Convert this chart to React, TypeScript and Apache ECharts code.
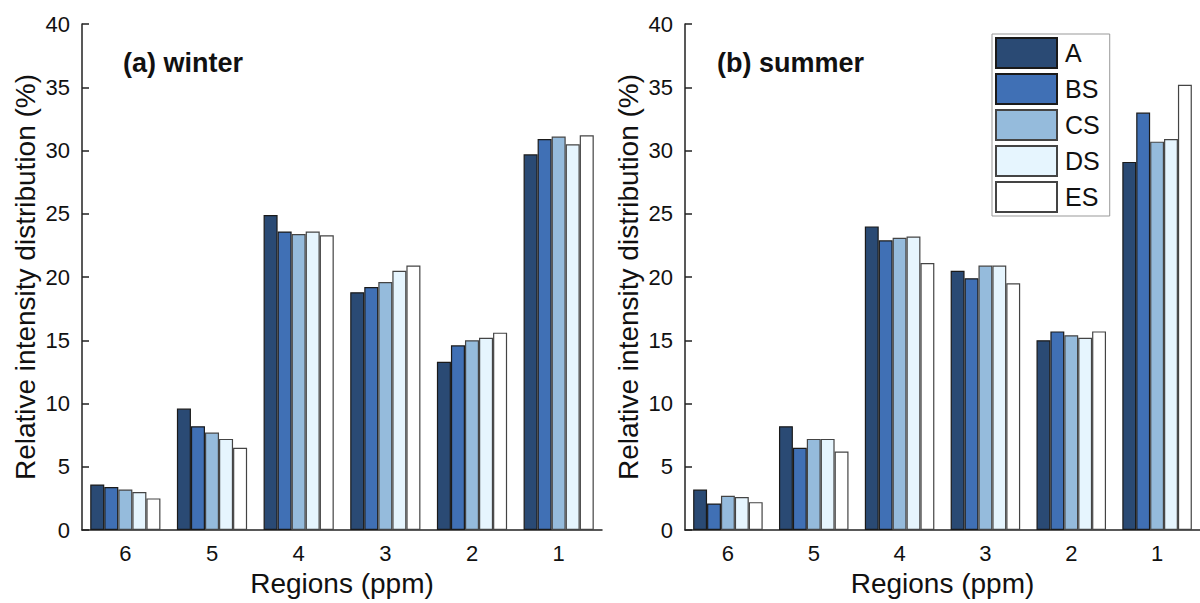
import React, { useEffect, useRef } from "react";
import * as echarts from "echarts";

const categories = ["6", "5", "4", "3", "2", "1"];
const seriesNames = ["A", "BS", "CS", "DS", "ES"];
const seriesColors = ["#2a4a74", "#4070b5", "#95bbdc", "#e6f5fe", "#ffffff"];

const winterA = [3.6, 9.6, 24.9, 18.8, 13.3, 29.7];
const winterBS = [3.4, 8.2, 23.6, 19.2, 14.6, 30.9];
const winterCS = [3.2, 7.7, 23.4, 19.6, 15.0, 31.1];
const winterDS = [3.0, 7.2, 23.6, 20.5, 15.2, 30.5];
const winterES = [2.5, 6.5, 23.3, 20.9, 15.6, 31.2];

const summerA = [3.2, 8.2, 24.0, 20.5, 15.0, 29.1];
const summerBS = [2.1, 6.5, 22.9, 19.9, 15.7, 33.0];
const summerCS = [2.7, 7.2, 23.1, 20.9, 15.4, 30.7];
const summerDS = [2.6, 7.2, 23.2, 20.9, 15.2, 30.9];
const summerES = [2.2, 6.2, 21.1, 19.5, 15.7, 35.2];

const yTicks = [0, 5, 10, 15, 20, 25, 30, 35, 40];

const FONT = 'Arial, "Liberation Sans", sans-serif';

export default function App() {
  const ref = useRef<HTMLDivElement>(null);
  useEffect(() => {
    if (!ref.current) return;
    const chart = echarts.init(ref.current, null, { renderer: "svg" });
    const winter = [winterA, winterBS, winterCS, winterDS, winterES];
    const summer = [summerA, summerBS, summerCS, summerDS, summerES];

    const mkX = (gi: number) => ({
      type: "category",
      gridIndex: gi,
      data: categories,
      name: "Regions (ppm)",
      nameLocation: "middle",
      nameGap: 39,
      nameTextStyle: { fontSize: 28, color: "#111", fontFamily: FONT },
      axisLine: { show: true, lineStyle: { color: "#222", width: 1.5 } },
      axisTick: { show: false },
      axisLabel: { fontSize: 22, color: "#111", fontFamily: FONT, margin: 12 },
    });
    const mkY = (gi: number) => ({
      type: "value",
      gridIndex: gi,
      min: yTicks[0],
      max: yTicks[yTicks.length - 1],
      interval: 5,
      name: "Relative intensity distribution (%)",
      nameLocation: "middle",
      nameGap: 43,
      nameTextStyle: { fontSize: 28, color: "#111", fontFamily: FONT },
      axisLine: { show: true, lineStyle: { color: "#222", width: 1.5 } },
      axisTick: { show: true, inside: true, length: 7, lineStyle: { color: "#222", width: 1.5 } },
      axisLabel: { fontSize: 22, color: "#111", fontFamily: FONT, margin: 12 },
      splitLine: { show: false },
    });

    const mkSeries = (data: number[][], gi: number) =>
      data.map((d, i) => ({
        name: seriesNames[i],
        type: "bar",
        xAxisIndex: gi,
        yAxisIndex: gi,
        data: d,
        barGap: "0%",
        barCategoryGap: "19%",
        itemStyle: {
          color: seriesColors[i],
          borderColor: i < 2 ? "#1a1a1a" : "#444",
          borderWidth: 1.2,
        },
      }));

    chart.setOption({
      animation: false,
      backgroundColor: "#ffffff",
      textStyle: { fontFamily: FONT },
      grid: [
        { left: 82, top: 24, width: 520, height: 506 },
        { left: 685, top: 24, width: 521, height: 506 },
      ],
      xAxis: [mkX(0), mkX(1)],
      yAxis: [mkY(0), mkY(1)],
      legend: {
        data: seriesNames,
        orient: "vertical",
        left: 992,
        top: 34,
        itemWidth: 61,
        itemHeight: 30,
        itemGap: 4,
        padding: [3, 10, 3, 3],
        borderColor: "#999",
        borderWidth: 1,
        icon: "rect",
        textStyle: { fontSize: 25, color: "#111", fontFamily: FONT, padding: [0, 0, 0, 3] },
      },
      title: [
        {
          text: "(a) winter",
          left: 118,
          top: 44,
          textStyle: { fontSize: 27, fontWeight: "bold", color: "#111", fontFamily: FONT },
        },
        {
          text: "(b) summer",
          left: 712,
          top: 44,
          textStyle: { fontSize: 27, fontWeight: "bold", color: "#111", fontFamily: FONT },
        },
      ],
      series: [...mkSeries(winter, 0), ...mkSeries(summer, 1)],
    });
    return () => chart.dispose();
  }, []);
  return (
    <div
      ref={ref}
      style={{ position: "fixed", left: 0, top: 0, width: 1200, height: 603, background: "#fff" }}
    />
  );
}
